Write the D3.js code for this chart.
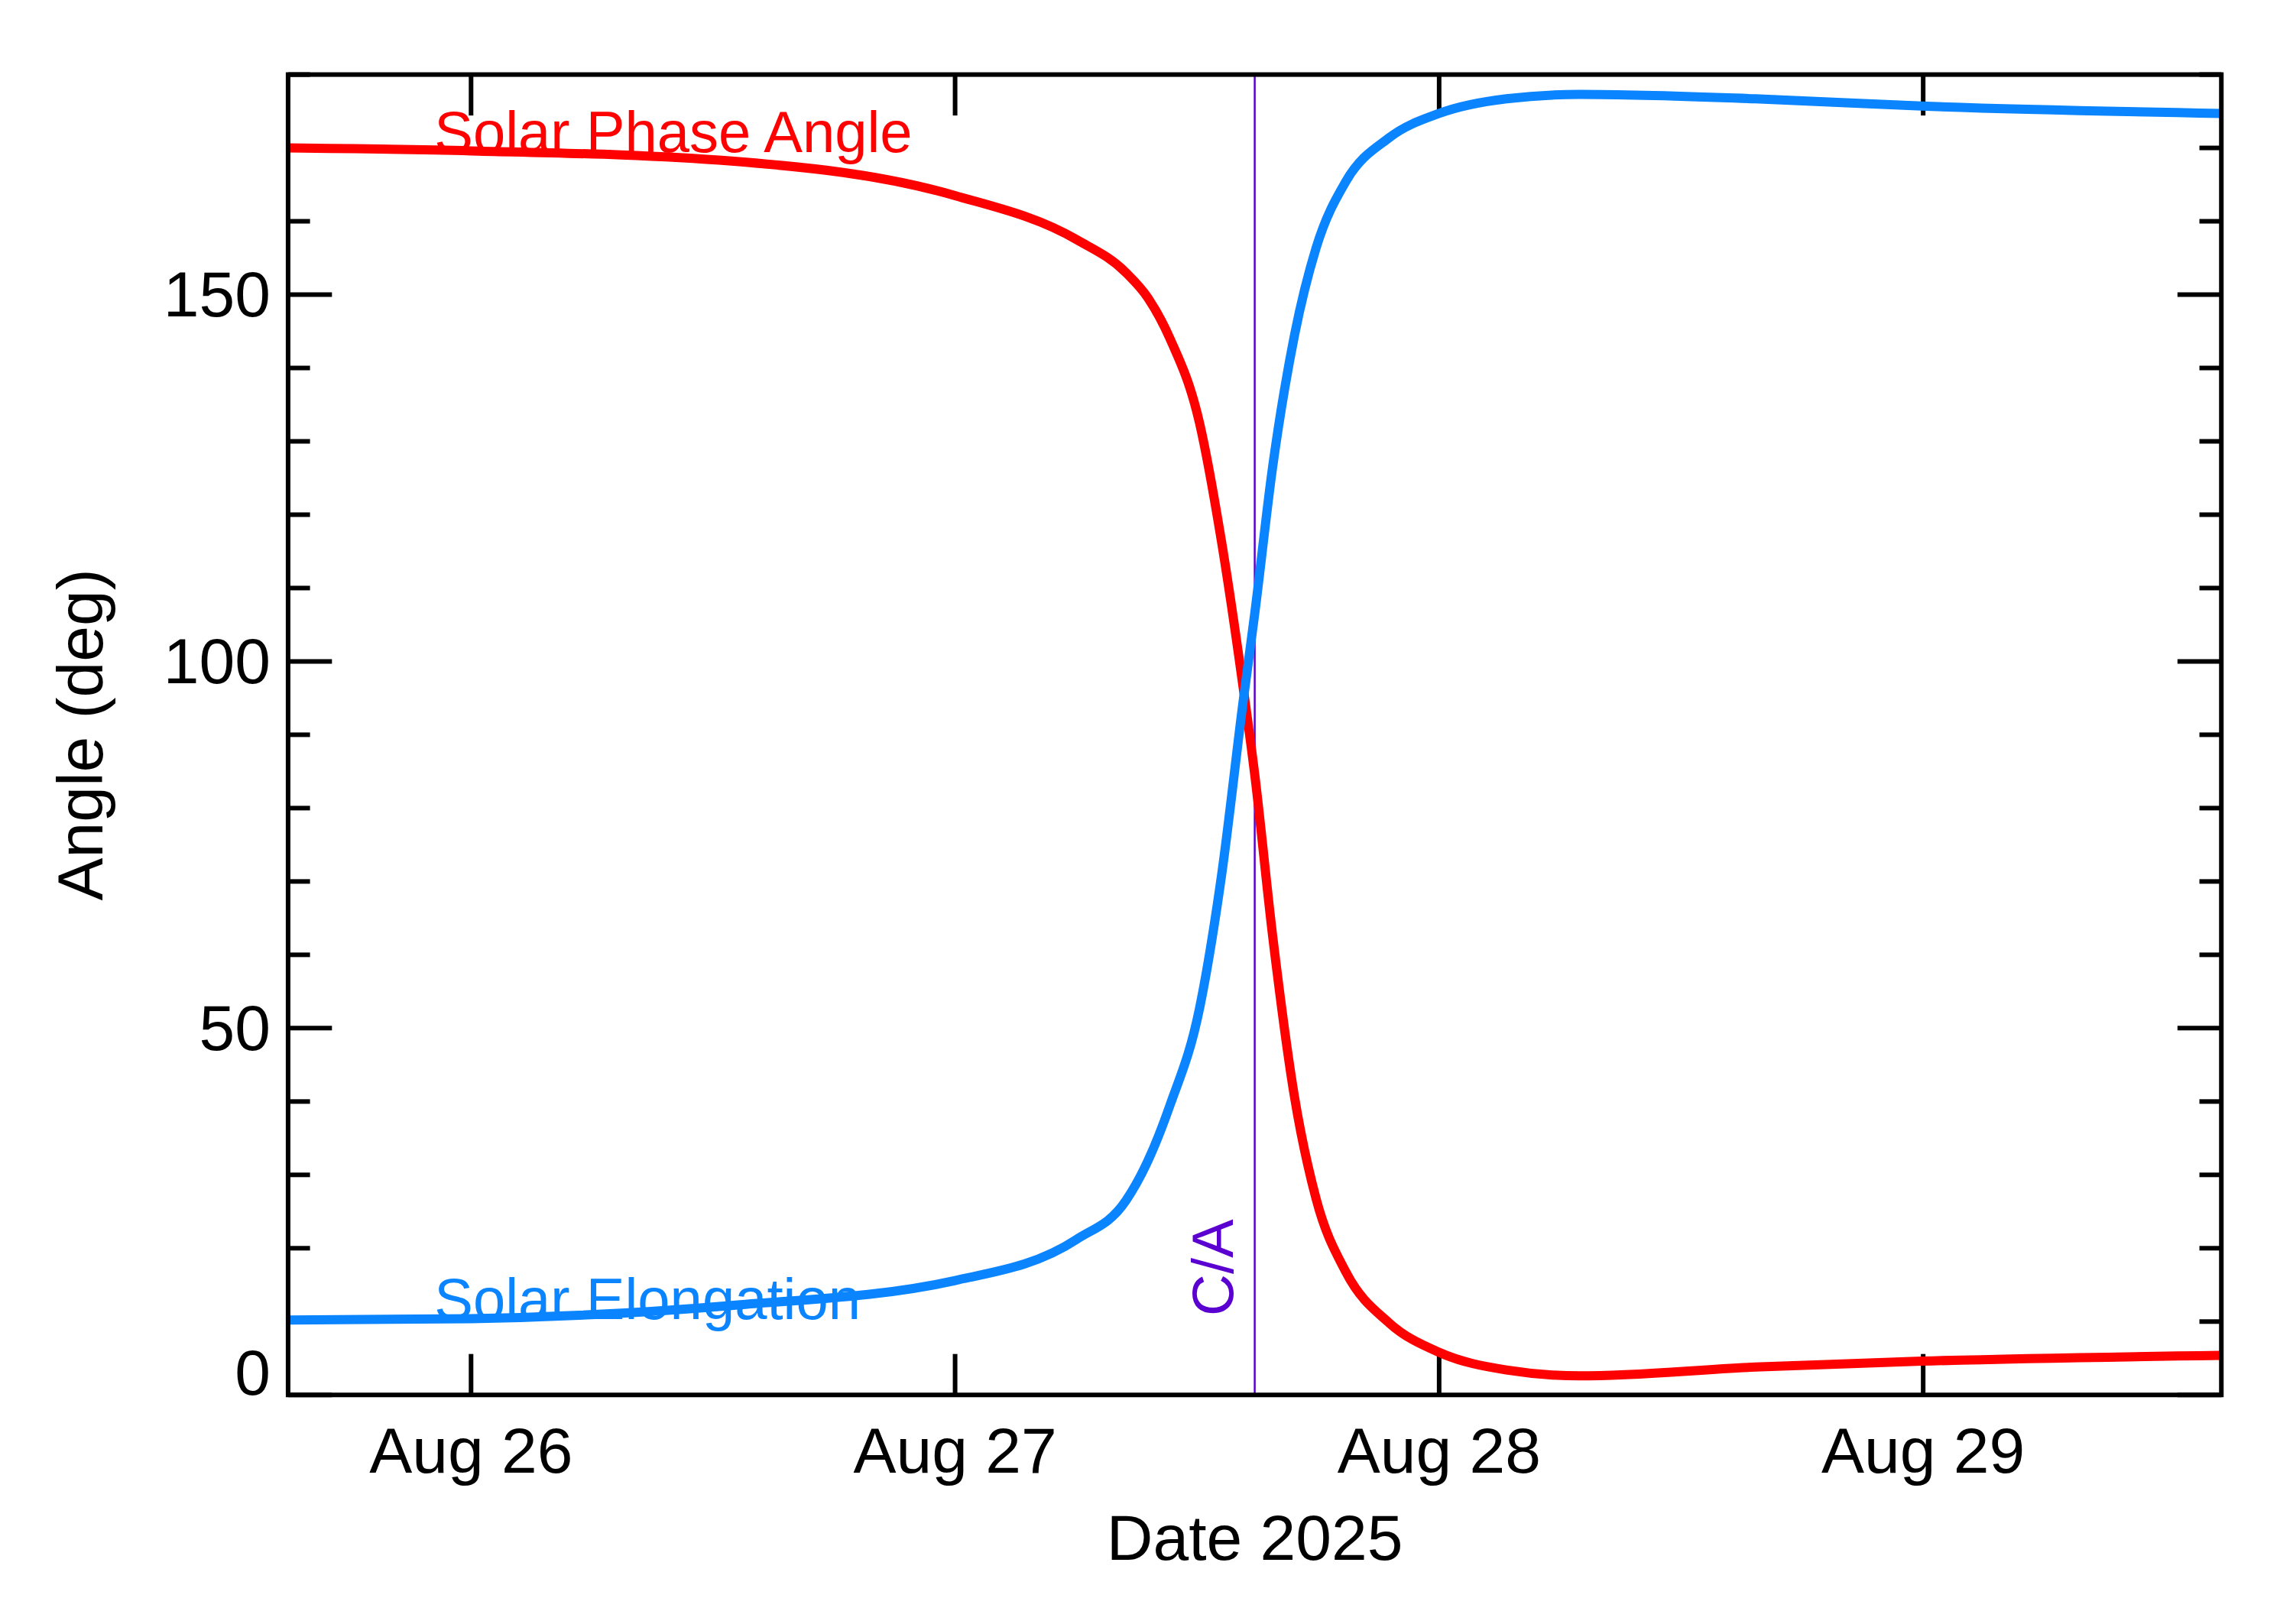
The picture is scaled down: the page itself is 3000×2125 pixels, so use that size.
<!DOCTYPE html><html><head><meta charset="utf-8">
<script src="https://cdn.jsdelivr.net/npm/d3@7"></script>
<style>body{margin:0;background:#fff}text{font-family:"Liberation Sans",Arial,sans-serif}</style></head><body>
<script>
// x values: days since 2025-08-26 00:00
const caDay = 1.619;
const xDomain = [-0.378, 3.616];
const phaseDays = [-0.378,0,0.538,1,1.251,1.353,1.399,1.444,1.505,1.550,1.595,1.619,1.656,1.701,1.746,1.807,1.897,2,2.139,2.290,2.653,2.997,3.616];
const phaseVals = [170,169.6,168.2,163.5,157.5,153,149.5,144,132.5,116.5,96.5,84.6,62.6,40.7,26.7,16.8,9.8,5.8,3.4,2.6,3.8,4.6,5.4];
const elongDays = phaseDays;
const elongVals = [10.2,10.4,12.2,15.6,21.2,26.5,32,39.5,52.7,70.6,94.5,106.5,126.5,144.4,156.4,165.4,171.4,174.7,176.7,177.3,176.7,175.7,174.7];
const xTickLabels = ["Aug 26","Aug 27","Aug 28","Aug 29"];
const yMajor = [0,50,100,150];

const S = 3000/1568;
const W=3000,H=2125, L=197*S, R=1519*S, T=51*S, B=954*S;
const svg=d3.select("body").append("svg").attr("width",W).attr("height",H);
const x=d3.scaleLinear().domain(xDomain).range([L,R]);
const y=d3.scaleLinear().domain([0,180]).range([B,T]);
const g=svg.append("g");
const tk="#000", tw=6;
d3.range(0,181,10).forEach(v=>{
  const len=(v%50===0?30:15)*S;
  g.append("line").attr("x1",L).attr("x2",L+len).attr("y1",y(v)).attr("y2",y(v)).attr("stroke",tk).attr("stroke-width",tw);
  g.append("line").attr("x1",R).attr("x2",R-len).attr("y1",y(v)).attr("y2",y(v)).attr("stroke",tk).attr("stroke-width",tw);
});
yMajor.forEach(v=>{
  g.append("text").attr("x",L-12*S).attr("y",y(v)+(v===0?0:15*S)).attr("text-anchor","end").attr("font-size",84).text(v);
});
xTickLabels.forEach((t,i)=>{
  const len=28*S;
  g.append("line").attr("x1",x(i)).attr("x2",x(i)).attr("y1",B).attr("y2",B-len).attr("stroke",tk).attr("stroke-width",tw);
  g.append("line").attr("x1",x(i)).attr("x2",x(i)).attr("y1",T).attr("y2",T+len).attr("stroke",tk).attr("stroke-width",tw);
  g.append("text").attr("x",x(i)).attr("y",B+53*S).attr("text-anchor","middle").attr("font-size",84).text(t);
});
g.append("text").attr("x",(L+R)/2).attr("y",1067*S).attr("text-anchor","middle").attr("font-size",84).text("Date 2025");
g.append("text").attr("transform",`translate(${70*S},${(T+B)/2}) rotate(-90)`).attr("text-anchor","middle").attr("font-size",84).text("Angle (deg)");
g.append("line").attr("x1",x(caDay)).attr("x2",x(caDay)).attr("y1",T).attr("y2",B).attr("stroke","#5a00d0").attr("stroke-width",2.5);
g.append("text").attr("transform",`translate(${x(caDay)-15*S},${900*S}) rotate(-90)`).attr("fill","#5a00d0").attr("font-size",76).text("C/A");
const line=d3.line().x(d=>x(d[0])).y(d=>y(d[1])).curve(d3.curveMonotoneX);
svg.append("clipPath").attr("id","c").append("rect").attr("x",L).attr("y",T).attr("width",R-L).attr("height",B-T);
g.append("path").datum(phaseDays.map((d,i)=>[d,phaseVals[i]])).attr("d",line).attr("fill","none").attr("stroke","#ff0000").attr("stroke-width",12).attr("clip-path","url(#c)");
g.append("path").datum(elongDays.map((d,i)=>[d,elongVals[i]])).attr("d",line).attr("fill","none").attr("stroke","#0a84ff").attr("stroke-width",12).attr("clip-path","url(#c)");
g.append("text").attr("x",297*S).attr("y",104*S).attr("fill","#ff0000").attr("font-size",76).text("Solar Phase Angle");
g.append("text").attr("x",297*S).attr("y",902*S).attr("fill","#0a84ff").attr("font-size",76).text("Solar Elongation");
g.append("rect").attr("x",L).attr("y",T).attr("width",R-L).attr("height",B-T).attr("fill","none").attr("stroke","#000").attr("stroke-width",6);
</script></body></html>
